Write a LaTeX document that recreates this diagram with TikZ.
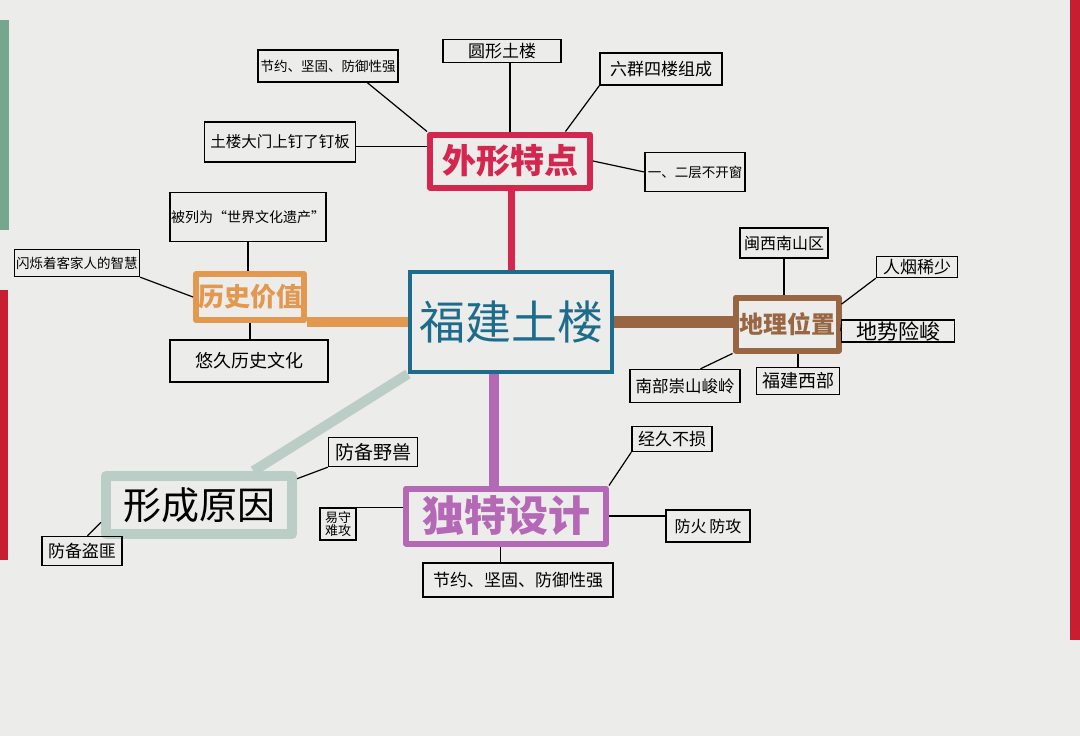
\documentclass[tikz,border=0pt]{standalone}
\usepackage{fontspec}
\newfontfamily\cjk{Noto Sans CJK SC}
\definecolor{paper}{RGB}{236,236,234}
\definecolor{cblue}{RGB}{30,108,140}
\definecolor{cred}{RGB}{212,38,78}
\definecolor{corange}{RGB}{226,152,78}
\definecolor{cbrown}{RGB}{152,102,66}
\definecolor{cpale}{RGB}{186,206,199}
\definecolor{cpurple}{RGB}{180,104,182}
\definecolor{edgegreen}{RGB}{40,120,80}
\definecolor{edgered}{RGB}{200,30,50}
\begin{document}
\begin{tikzpicture}[x=1pt,y=-1pt,
  leaf/.style={draw=black, line width=1.4pt, inner sep=1pt, align=center, text=black,
    font=\cjk\fontsize{#1}{#1}\selectfont},
  conn/.style={draw=black, line width=1.2pt},
  hub/.style={draw=#1, line width=6pt, line join=round, text=#1, inner sep=2pt},
  hubfont/.style={font=\cjk\bfseries\fontsize{#1}{#1}\selectfont},
  branch/.style={draw=#1, line width=8pt}
]
\fill[paper] (0,0) rectangle (1080,736);
\useasboundingbox (0,0) rectangle (1080,736);
% coloured paper edges
\fill[edgegreen!60!paper] (0,20) rectangle (9,230);
\fill[edgered] (0,290) rectangle (8,560);
\fill[edgered] (1070,0) rectangle (1080,640);

% centre
\node[draw=cblue, line width=4pt, text=cblue, minimum width=202, minimum height=100,
  font=\cjk\fontsize{46}{46}\selectfont] (center) at (511,322) {福建土楼};

% hubs
\node[hub=cred, hubfont=34, minimum width=160, minimum height=53] (waixing) at (510,161) {外形特点};
\node[hub=corange, hubfont=26, minimum width=108, minimum height=46] (lishi) at (250,297) {历史价值};
\node[hub=cbrown, hubfont=24, minimum width=103, minimum height=53] (dili) at (787,324) {地理位置};
\node[draw=cpale, line width=10pt, line join=round, text=black, minimum width=186, minimum height=58,
  font=\cjk\fontsize{38}{38}\selectfont] (xingcheng) at (199,505) {形成原因};
\node[hub=cpurple, hubfont=42, minimum width=200, minimum height=55] (dute) at (506,516) {独特设计};

% branches
\draw[branch=cred, line width=7pt] (center.north) -- (center.north |- waixing.south);
\draw[branch=corange, line width=10pt] (lishi.east |- center.west) -- (center.west);
\draw[branch=cbrown, line width=12pt] (center.east) -- (center.east -| dili.west);
\draw[branch=cpale, line width=10pt] (center.south west) -- (xingcheng.32);
\draw[branch=cpurple, line width=10pt] (center.-108) -- (center.-108 |- dute.north);

% leaves of 外形特点
\node[leaf=17, minimum width=118, minimum height=23] (yuanxing) at (502,51) {圆形土楼};
\node[leaf=13.5, minimum width=140, minimum height=32] (jieyueA) at (328,66) {节约、坚固、防御性强};
\node[leaf=17, minimum width=122, minimum height=32] (liuqun) at (661,69) {六群四楼组成};
\node[leaf=15.5, minimum width=151, minimum height=40] (damen) at (280,142) {土楼大门上钉了钉板};
\node[leaf=13.5, minimum width=100, minimum height=39] (yier) at (695,172) {一、二层不开窗};
\draw[conn] (waixing.north |- yuanxing.south) -- (waixing.north);
\draw[conn] (jieyueA.-23) -- (waixing.north west);
\draw[conn] (liuqun.south west) -- (waixing.28);
\draw[conn] (waixing.170) -- (waixing.170 -| damen.east);
\draw[conn] (waixing.east) -- (yier.west);

% leaves of 历史价值
\node[leaf=14, minimum width=147, minimum height=49] (beilie) at (248,217) {被列为“世界文化遗产”};
\node[leaf=13.5, minimum width=125, minimum height=27] (shanshuo) at (77,263) {闪烁着客家人的智慧};
\node[leaf=18, minimum width=158, minimum height=42] (youjiu) at (249,361) {悠久历史文化};
\draw[conn] (beilie.south) -- (beilie.south |- lishi.north);
\draw[conn] (shanshuo.south east) -- (lishi.west);
\draw[conn] (lishi.south) -- (lishi.south |- youjiu.north);

% leaves of 地理位置
\node[leaf=16, minimum width=88, minimum height=30] (minxi) at (784,243) {闽西南山区};
\node[leaf=17, minimum width=81, minimum height=21] (renyan) at (917,267) {人烟稀少};
\node[leaf=21, minimum width=113, minimum height=22] (dishi) at (898,331) {地势险峻};
\node[leaf=16.5, minimum width=110, minimum height=33] (nanbu) at (685,386) {南部崇山峻岭};
\node[leaf=18, minimum width=83, minimum height=27] (fujian) at (798,381) {福建西部};
\draw[conn] (minxi.south) -- (minxi.south |- dili.north);
\draw[conn] (dili.20) -- (renyan.south west);
\draw[conn] (dili.east) -- (dishi.west);
\draw[conn] (nanbu.48) -- (dili.south west);
\draw[conn] (fujian.north) -- (fujian.north |- dili.south);

% leaves of 形成原因
\node[leaf=19, minimum width=89, minimum height=29] (yeshou) at (373,452) {防备野兽};
\node[leaf=17, minimum width=80, minimum height=29] (daofei) at (82,551) {防备盗匪};
\draw[conn] (xingcheng.15) -- (yeshou.south west);
\draw[conn] (daofei.70) -- (xingcheng.190);

% leaves of 独特设计
\node[leaf=13, minimum width=36, minimum height=32, inner sep=1pt] (yishou) at (338,524)
  {易守\\难攻};
\node[leaf=17, minimum width=80, minimum height=25] (jingjiu) at (672,439) {经久不损};
\node[leaf=16, minimum width=84, minimum height=32] (fanghuo) at (708,526) {防火\,防攻};
\node[leaf=17, minimum width=190, minimum height=34] (jieyueB) at (518,580) {节约、坚固、防御性强};
\draw[conn] (yishou.north east) -- (yishou.north east -| dute.west);
\draw[conn] (dute.north east) -- (jingjiu.south west);
\draw[conn] (dute.east) -- (dute.east -| fanghuo.west);
\draw[conn] (dute.-100) -- (dute.-100 |- jieyueB.north);
\end{tikzpicture}
\end{document}
